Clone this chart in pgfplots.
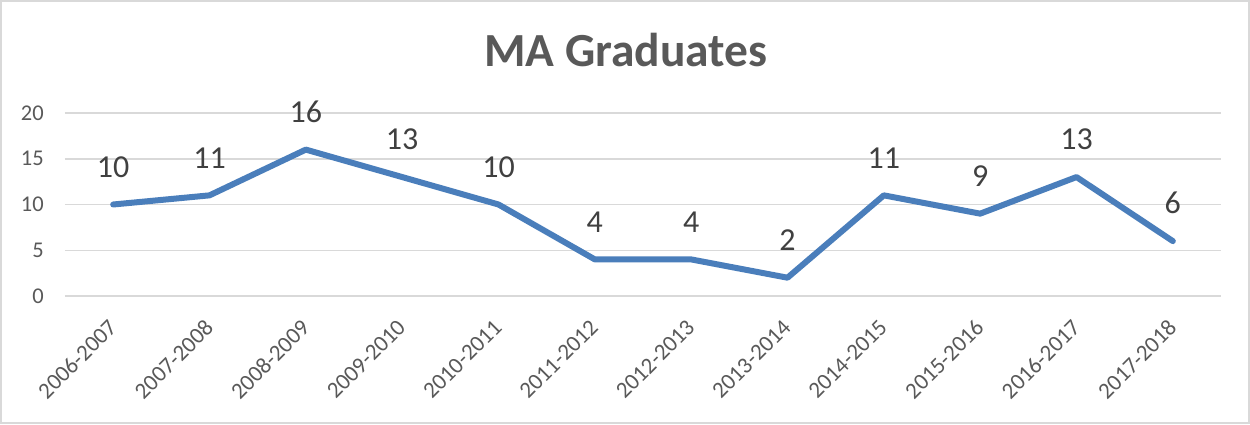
\documentclass[border=0pt]{standalone}
\usepackage{pgfplots}
\pgfplotsset{compat=1.18}
\usepackage{fontspec}
\setmainfont{Carlito}
\definecolor{linecol}{HTML}{4A7EBB}
\definecolor{gridcol}{HTML}{D9D9D9}
\definecolor{ticktext}{HTML}{595959}
\definecolor{labtext}{HTML}{404040}
\begin{document}
\begin{tikzpicture}
\useasboundingbox (0,0) rectangle (1250pt,424pt);
\draw[color=gridcol, line width=1.5pt] (1pt,1pt) rectangle (1249pt,423pt);
\node[font=\fontsize{47.5}{52}\selectfont\bfseries, text=ticktext] at (626pt,374pt) {MA Graduates};
\begin{axis}[
  at={(65pt,128pt)}, anchor=south west,
  scale only axis, width=1156pt, height=183pt,
  xmin=-0.5, xmax=11.5, ymin=0, ymax=20,
  ytick={0,5,10,15,20},
  xtick={0,...,11},
  xticklabels={2006-2007,2007-2008,2008-2009,2009-2010,2010-2011,2011-2012,2012-2013,2013-2014,2014-2015,2015-2016,2016-2017,2017-2018},
  axis line style={draw=none},
  tick style={draw=none},
  ymajorgrids, grid style={color=gridcol, line width=1.5pt},
  /pgf/number format/assume math mode=true,
  yticklabel style={font=\fontsize{22.5}{26}\selectfont, text=ticktext, inner sep=0pt, xshift=-21pt},
  xticklabel style={font=\fontsize{23}{26}\selectfont, text=ticktext, xshift=-6pt, yshift=-22pt, rotate=45, anchor=north east, inner sep=0pt},
  clip=false,
  nodes near coords,
  every node near coord/.append style={font=\fontsize{32}{36}\selectfont, text=labtext, anchor=south, inner sep=0pt, yshift=24pt},
]
\addplot[color=linecol, line width=6pt, line join=round, line cap=round, mark=none] coordinates {
(0,10) (1,11) (2,16) (3,13) (4,10) (5,4) (6,4) (7,2) (8,11) (9,9) (10,13) (11,6)
};
\end{axis}
\end{tikzpicture}
\end{document}
